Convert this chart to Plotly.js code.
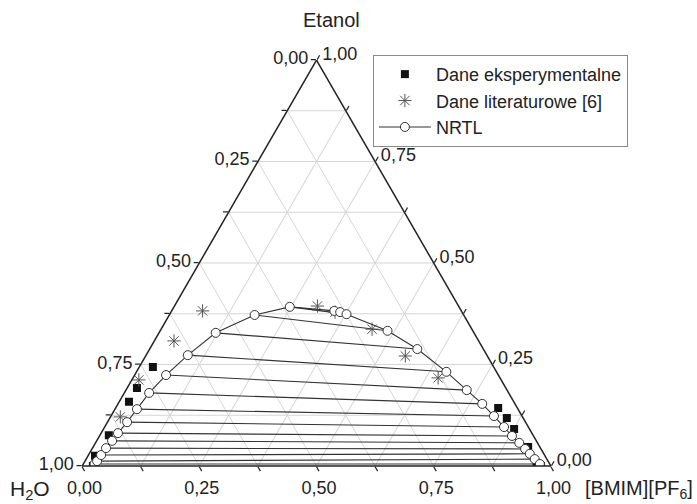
<!DOCTYPE html>
<html><head><meta charset="utf-8">
<script src="https://cdn.plot.ly/plotly-3.0.1.min.js"></script>
<style>html,body{margin:0;padding:0;background:#fff}#chart{width:697px;height:504px}</style>
</head><body><div id="chart"></div>
<script>
// Tick positions and labels (labels read the opposite way round the triangle)
const tickVals = [0, 0.125, 0.25, 0.375, 0.5, 0.625, 0.75, 0.875, 1];
const tickText = ['1,00', '', '0,75', '', '0,50', '', '0,25', '', '0,00'];
// Component (corner) names
const componentNames = ['Etanol', 'H<sub>2</sub>O', '[BMIM][PF<sub>6</sub>]'];

// Experimental data (mass fractions): Etanol, H2O, [BMIM][PF6]
const expEtanol = [0.244, 0.192, 0.158, 0.076, 0.025, 0.000, 0.143, 0.118, 0.091, 0.047, 0.007, 0.000];
const expWater  = [0.727, 0.787, 0.821, 0.905, 0.960, 0.977, 0.041, 0.035, 0.033, 0.025, 0.027, 0.021];
const expIL     = [0.029, 0.021, 0.021, 0.019, 0.015, 0.023, 0.816, 0.847, 0.876, 0.928, 0.966, 0.979];

// Literature data [6]
const litEtanol = [0.382, 0.308, 0.212, 0.121, 0.394, 0.379, 0.337, 0.271, 0.217];
const litWater  = [0.552, 0.650, 0.773, 0.858, 0.301, 0.271, 0.213, 0.175, 0.132];
const litIL     = [0.066, 0.042, 0.015, 0.021, 0.305, 0.350, 0.450, 0.554, 0.651];

// NRTL binodal: water-rich branch (bottom -> top)
const nrtlLeftEtanol = [0.005, 0.012, 0.027, 0.044, 0.062, 0.081, 0.108, 0.140, 0.180, 0.224, 0.273, 0.328, 0.372, 0.392];
const nrtlLeftWater  = [0.971, 0.962, 0.946, 0.927, 0.905, 0.883, 0.850, 0.813, 0.767, 0.709, 0.638, 0.551, 0.446, 0.361];
const nrtlLeftIL     = [0.024, 0.026, 0.027, 0.029, 0.033, 0.036, 0.042, 0.047, 0.053, 0.067, 0.089, 0.121, 0.182, 0.247];
// NRTL points near the plait point
const nrtlTopEtanol = [0.382, 0.379];
const nrtlTopWater  = [0.271, 0.260];
const nrtlTopIL     = [0.347, 0.361];
// NRTL binodal: IL-rich branch (top -> bottom)
const nrtlRightEtanol = [0.374, 0.333, 0.288, 0.232, 0.187, 0.153, 0.123, 0.096, 0.074, 0.057, 0.042, 0.030, 0.017, 0.005];
const nrtlRightWater  = [0.249, 0.182, 0.141, 0.107, 0.086, 0.070, 0.060, 0.052, 0.046, 0.039, 0.034, 0.030, 0.026, 0.021];
const nrtlRightIL     = [0.377, 0.485, 0.571, 0.661, 0.727, 0.777, 0.817, 0.852, 0.880, 0.904, 0.924, 0.940, 0.957, 0.974];

// Tie lines: join left branch (top->bottom) with right branch (top->bottom)
const tieA = [], tieB = [], tieC = [];
const n = nrtlLeftEtanol.length;
for (let i = 0; i < n; i++) {
  const j = n - 1 - i;
  tieA.push(nrtlLeftEtanol[j], nrtlRightEtanol[i], null);
  tieB.push(nrtlLeftWater[j], nrtlRightWater[i], null);
  tieC.push(nrtlLeftIL[j], nrtlRightIL[i], null);
}
const binA = nrtlLeftEtanol.concat(nrtlTopEtanol, nrtlRightEtanol);
const binB = nrtlLeftWater.concat(nrtlTopWater, nrtlRightWater);
const binC = nrtlLeftIL.concat(nrtlTopIL, nrtlRightIL);

const FONT = 'Liberation Sans, Arial, sans-serif';
const traces = [
  {type: 'scatterternary', mode: 'lines', a: tieA, b: tieB, c: tieC, showlegend: false,
   line: {color: '#333', width: 1.1}, hoverinfo: 'skip', connectgaps: false},
  {type: 'scatterternary', mode: 'markers', name: 'Dane eksperymentalne', a: expEtanol, b: expWater, c: expIL,
   marker: {symbol: 'square', size: 8, color: '#111'}},
  {type: 'scatterternary', mode: 'markers', name: 'Dane literaturowe [6]', a: litEtanol, b: litWater, c: litIL,
   marker: {symbol: 'asterisk-open', size: 11, color: '#555', line: {color: '#555', width: 1}}},
  {type: 'scatterternary', mode: 'lines+markers', name: 'NRTL', a: binA, b: binB, c: binC,
   line: {color: '#333', width: 1.1},
   marker: {symbol: 'circle', size: 9, color: '#fff', line: {color: '#333', width: 1}}}
];

const axisCommon = {
  tickvals: tickVals, ticktext: tickText, ticks: 'outside', ticklen: 5, tickwidth: 1.2, tickcolor: '#222',
  linecolor: '#222', linewidth: 1.5, showline: true, gridcolor: '#d6d6d6', gridwidth: 1,
  tickfont: {family: FONT, size: 18, color: '#222'}, title: {text: ''}
};

const layout = {
  width: 697, height: 504,
  margin: {l: 0, r: 0, t: 0, b: 0},
  paper_bgcolor: '#fff',
  font: {family: FONT, color: '#222'},
  showlegend: true,
  legend: {x: 0.535, y: 0.891, xanchor: 'left', yanchor: 'top', bgcolor: '#fff', itemwidth: 52,
           bordercolor: '#888', borderwidth: 1, font: {family: FONT, size: 18, color: '#222'}},
  ternary: {
    domain: {x: [82/697, 551/697], y: [38/504, 444/504]},
    bgcolor: '#fff',
    sum: 1,
    aaxis: Object.assign({}, axisCommon),
    baxis: Object.assign({}, axisCommon),
    caxis: Object.assign({}, axisCommon)
  },
  annotations: [
    {text: componentNames[0], xref: 'paper', yref: 'paper', x: 0.476, y: 0.96, xanchor: 'center', yanchor: 'middle',
     showarrow: false, font: {family: FONT, size: 20, color: '#222'}},
    {text: componentNames[1], xref: 'paper', yref: 'paper', x: 0.012, y: 0.028, xanchor: 'left', yanchor: 'middle',
     showarrow: false, font: {family: FONT, size: 21, color: '#222'}},
    {text: componentNames[2], xref: 'paper', yref: 'paper', x: 0.997, y: 0.028, xanchor: 'right', yanchor: 'middle',
     showarrow: false, font: {family: FONT, size: 20, color: '#222'}}
  ]
};

Plotly.newPlot('chart', traces, layout, {staticPlot: true, displayModeBar: false});
</script>
</body></html>
